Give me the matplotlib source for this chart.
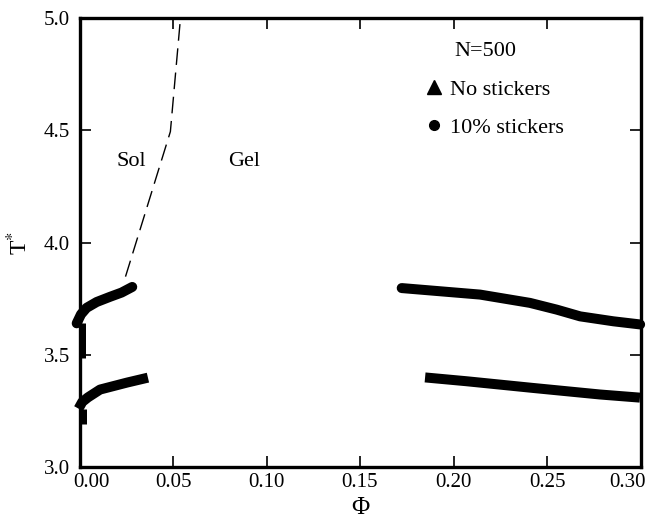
import matplotlib
matplotlib.use("Agg")
import matplotlib.pyplot as plt
import matplotlib.transforms as mtransforms
from matplotlib.lines import Line2D

plt.rcParams['font.family'] = ['Liberation Serif', 'DejaVu Serif']
plt.rcParams['mathtext.fontset'] = 'stix'

# 10% stickers (circles)
circ_left_phi = [-0.0015, 0.0008, 0.0038, 0.0092, 0.0163, 0.0225, 0.0282]
circ_left_T = [3.64, 3.68, 3.709, 3.735, 3.758, 3.777, 3.802]
circ_tail_phi = [0.0019, 0.0019]
circ_tail_T = [3.487, 3.64]
circ_right_phi = [0.1723, 0.2142, 0.2409, 0.2552, 0.2677, 0.2855, 0.2998]
circ_right_T = [3.797, 3.768, 3.731, 3.701, 3.671, 3.649, 3.635]

# no stickers (triangles)
tri_left_phi = [-0.0005, 0.0015, 0.0045, 0.011, 0.0254, 0.0366]
tri_left_T = [3.26, 3.29, 3.31, 3.345, 3.376, 3.398]
tri_tail_phi = [0.0024, 0.0024]
tri_tail_T = [3.19, 3.26]
tri_right_phi = [0.1848, 0.207, 0.2427, 0.2783, 0.2997]
tri_right_T = [3.399, 3.382, 3.352, 3.323, 3.309]

# sol-gel boundary
gel_phi = [0.0246, 0.0486, 0.054]
gel_T = [3.848, 4.494, 5.0]

xticks = [0.00, 0.05, 0.10, 0.15, 0.20, 0.25, 0.30]
yticks = [3.0, 3.5, 4.0, 4.5, 5.0]

fig = plt.figure(figsize=(6.47, 5.21), dpi=100)
ax = fig.add_axes([79.5 / 647, 54 / 521, 561 / 647, 449 / 521])

lw = 7.2
for phi, T in [(circ_left_phi, circ_left_T), (circ_right_phi, circ_right_T)]:
    ax.plot(phi, T, '-', color='black', lw=lw, solid_capstyle='round',
            solid_joinstyle='round', clip_on=False)
for phi, T in [(tri_left_phi, tri_left_T), (tri_right_phi, tri_right_T)]:
    ax.plot(phi, T, '-', color='black', lw=lw, solid_capstyle='butt',
            solid_joinstyle='round', clip_on=False)
for phi, T in [(circ_tail_phi, circ_tail_T), (tri_tail_phi, tri_tail_T)]:
    ax.plot(phi, T, '-', color='black', lw=3.6, solid_capstyle='butt')

ax.plot(gel_phi, gel_T, color='black', lw=1.0, dashes=(12, 5.5))

ax.text(0.0279, 4.36, 'Sol', fontsize=16, ha='center', va='center')
ax.text(0.0883, 4.36, 'Gel', fontsize=16, ha='center', va='center')
ax.text(0.669, 0.915, 'N=500', fontsize=16, transform=ax.transAxes,
        ha='left', va='baseline')

handles = [Line2D([], [], ls='none', marker='^', color='black', ms=10),
           Line2D([], [], ls='none', marker='o', color='black', ms=7)]
ax.legend(handles, ['No stickers', '10% stickers'], loc='upper left',
          bbox_to_anchor=(0.612, 0.863), frameon=False, fontsize=16,
          handlelength=1.0, handletextpad=0.22, labelspacing=0.79,
          borderpad=0, borderaxespad=0)

ax.set_xlim(0, 0.30)
ax.set_ylim(3.0, 5.0)
ax.set_xticks(xticks)
ax.set_xticklabels(['%.2f' % v for v in xticks])
ax.set_yticks(yticks)
ax.set_yticklabels(['%.1f' % v for v in yticks])
ax.tick_params(direction='in', length=8, width=1.2, labelsize=15,
               top=True, right=True)
ax.tick_params(axis='x', pad=4)
ax.tick_params(axis='y', pad=7)
for s in ax.spines.values():
    s.set_linewidth(2.4)

labels = ax.get_xticklabels()
labels[0].set_transform(labels[0].get_transform() +
                        mtransforms.ScaledTranslation(0.12, 0, fig.dpi_scale_trans))
labels[-1].set_transform(labels[-1].get_transform() +
                         mtransforms.ScaledTranslation(-0.135, 0, fig.dpi_scale_trans))

ax.set_xlabel('\u03a6', fontsize=18, labelpad=4)
ax.set_ylabel('T$^{*}$', fontsize=17, labelpad=8)

fig.savefig('out.png', dpi=100)
